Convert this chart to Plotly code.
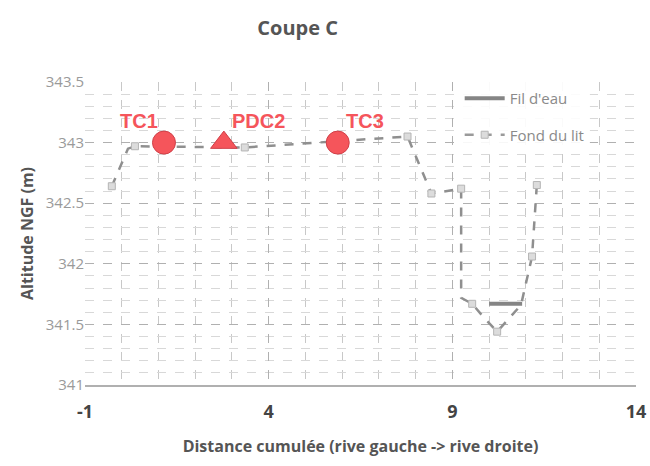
import plotly.graph_objects as go

# Data
bed_x = [-0.27, 0.17, 0.36, 3.35, 7.78, 8.32, 8.43, 9.24, 9.24, 9.54, 9.85, 10.22, 10.87, 11.17, 11.28, 11.3]
bed_y = [342.64, 342.95, 342.97, 342.96, 343.05, 342.65, 342.58, 342.62, 341.72, 341.67, 341.56, 341.44, 341.66, 342.06, 342.57, 342.65]
bed_marker_x = [-0.27, 0.36, 3.35, 7.78, 8.43, 9.24, 9.54, 10.22, 11.17, 11.3]
bed_marker_y = [342.64, 342.97, 342.96, 343.05, 342.58, 342.62, 341.67, 341.44, 342.06, 342.65]
water_x = [10.0, 10.9]
water_y = [341.67, 341.67]

point_names = ["TC1", "PDC2", "TC3"]
point_x = [1.15, 2.78, 5.88]
point_y = [343.0, 343.0, 343.0]
point_symbols = ["circle", "triangle-up", "circle"]

x_ticks = [-1, 4, 9, 14]
y_ticks = [341, 341.5, 342, 342.5, 343, 343.5]

RED = "#f5555b"
fig = go.Figure()

fig.add_trace(go.Scatter(x=bed_x, y=bed_y, mode="lines", showlegend=False,
                         line=dict(color="#8f8f8f", width=2.5, dash="dash"),
                         hoverinfo="skip"))
fig.add_trace(go.Scatter(x=bed_marker_x, y=bed_marker_y, mode="markers", showlegend=False,
                         marker=dict(symbol="square", size=7, color="#dcdcdc", opacity=1,
                                     line=dict(color="#b5b5b5", width=1))))
fig.add_trace(go.Scatter(x=water_x, y=water_y, mode="lines", name="Fil d'eau",
                         legendgroup="a", legendrank=1,
                         line=dict(color="#858585", width=4)))
# legend entry for bed
fig.add_trace(go.Scatter(x=[None], y=[None], mode="lines+markers", name="Fond du lit",
                         legendgroup="b", legendrank=2,
                         line=dict(color="#9a9a9a", width=2.5, dash="dash"),
                         marker=dict(symbol="square", size=7, color="#dcdcdc",
                                     line=dict(color="#b5b5b5", width=1))))

fig.add_trace(go.Scatter(x=point_x, y=point_y, mode="markers", showlegend=False,
                         marker=dict(symbol=point_symbols, size=23, color=RED, opacity=1,
                                     line=dict(color="#d04048", width=1))))

text_pos = ["top left", "top right", "top right"]
for n, xx, yy, tp in zip(point_names, point_x, point_y, text_pos):
    xs = -1 if tp == "top left" else 1
    fig.add_annotation(x=xx, y=yy, text="<b>%s</b>" % n, showarrow=False,
                       xanchor="right" if xs < 0 else "left", yanchor="bottom",
                       xshift=-4 if xs < 0 else 6, yshift=9,
                       font=dict(family="Liberation Sans, Arial", size=20, color=RED))

fig.update_layout(
    width=650, height=466,
    margin=dict(l=85, r=14, t=82, b=81, autoexpand=False),
    paper_bgcolor="white", plot_bgcolor="white",
    title=dict(text="<b>Coupe C</b>", x=0.458, xanchor="center", y=0.94, yanchor="middle",
               font=dict(family="Open Sans", size=20, color="#555555"), automargin=False),
    font=dict(family="Open Sans", color="#666666"),
    legend=dict(x=0.68, y=1.0, xanchor="left", yanchor="top",
                bgcolor="rgba(255,255,255,0.9)", font=dict(size=15, color="#8a8a8a"),
                itemwidth=40, tracegroupgap=14),
    showlegend=True,
)
fig.update_xaxes(range=[-1, 14], tickvals=x_ticks, ticktext=["<b>%d</b>" % v for v in x_ticks],
                 automargin=False,
                 showgrid=True, gridcolor="#b0b0b0", griddash="dash", gridwidth=1,
                 minor=dict(dtick=1, tick0=-1, showgrid=True, gridcolor="#c8c8c8", griddash="dash"),
                 zeroline=False, showline=True, linecolor="#b0b0b0", linewidth=1.5,
                 ticks="", ticklabelstandoff=10, tickfont=dict(size=18, color="#444444"),
                 title=dict(text="<b>Distance cumulée (rive gauche -> rive droite)</b>",
                            font=dict(size=16, color="#555555"), standoff=18))
fig.update_yaxes(range=[341, 343.5], tickvals=y_ticks,
                 ticktext=["341", "341.5", "342", "342.5", "343", "343.5"],
                 automargin=False,
                 showgrid=True, gridcolor="#b0b0b0", griddash="dash", gridwidth=1,
                 minor=dict(dtick=0.1, tick0=341, showgrid=True, gridcolor="#d8d8d8", griddash="dash"),
                 zeroline=False, showline=False,
                 ticks="", tickfont=dict(size=15, color="#9a9a9a"),
                 title=dict(text="<b>Altitude NGF (m)</b>", font=dict(size=16, color="#555555"),
                            standoff=8))

fig.write_html("out.html", post_script="document.body.style.margin='0';",
               config={"displayModeBar": False})
